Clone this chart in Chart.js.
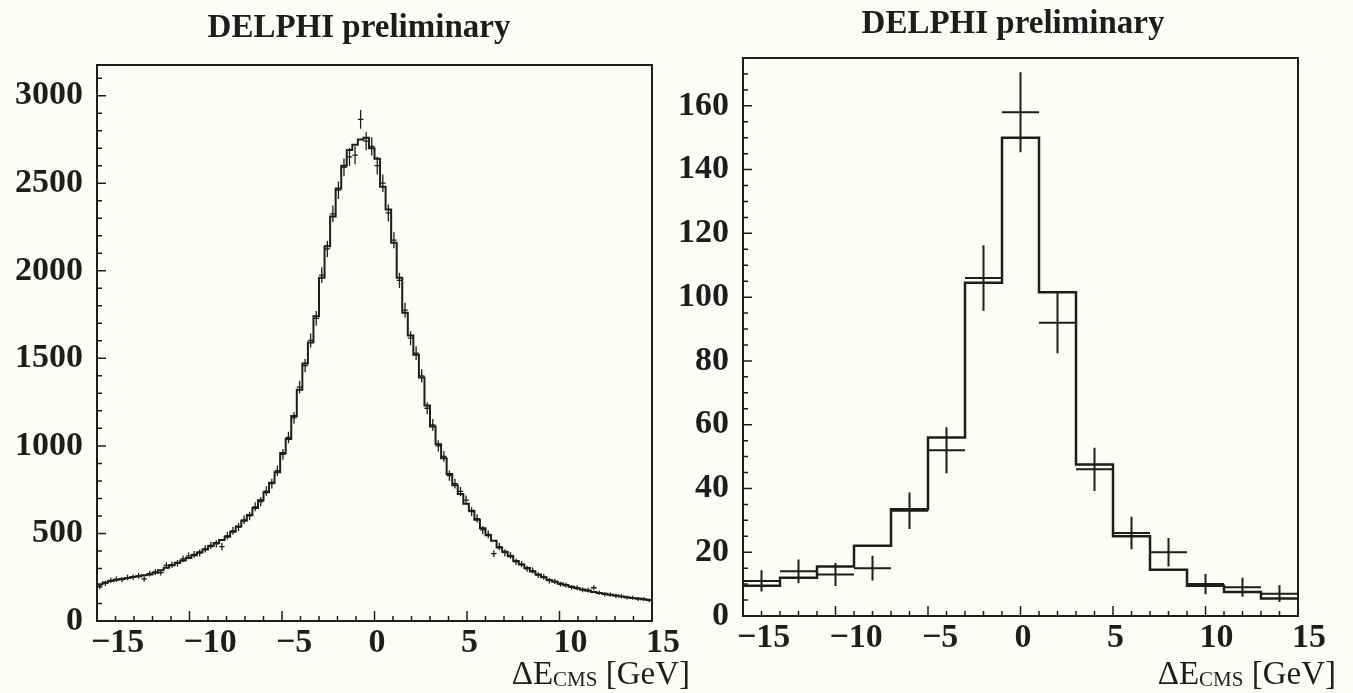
<!DOCTYPE html>
<html>
<head>
<meta charset="utf-8">
<script src="https://cdn.jsdelivr.net/npm/chart.js@4.4.1/dist/chart.umd.min.js"></script>
<style>
  html, body { margin: 0; padding: 0; background: #fdfdf8; overflow: hidden; }
  .panel { position: absolute; top: 0; }
</style>
</head>
<body>
<canvas id="left-chart" class="panel" width="720" height="693" style="left:0"></canvas>
<canvas id="right-chart" class="panel" width="677" height="693" style="left:676px"></canvas>
<script>
const ink = '#1d1d1d';
const serif = '"Liberation Serif", "Times New Roman", serif';

// x axis: Delta E_CMS in GeV
const xTickValues = [-15, -10, -5, 0, 5, 10, 15];
const leftYTicks = [0, 500, 1000, 1500, 2000, 2500, 3000];
const rightYTicks = [0, 20, 40, 60, 80, 100, 120, 140, 160];

// left panel: 100 bins of 0.3 GeV from -15 to 15
const fineStart = -15, fineWidth = 0.3;
const fineMC = [
  210, 220, 228, 235, 240, 246, 251, 256, 261, 266,
  276, 290, 304, 318, 332, 346, 360, 376, 392, 409,
  427, 445, 463, 481, 510, 540, 572, 605, 645, 690,
  735, 790, 850, 960, 1040, 1170, 1320, 1470, 1590, 1740,
  1960, 2140, 2310, 2470, 2600, 2690, 2720, 2750, 2760, 2700,
  2640, 2480, 2350, 2160, 1960, 1760, 1630, 1520, 1390, 1230,
  1110, 1010, 930, 840, 775, 725, 670, 630, 578, 530,
  490, 458, 420, 395, 370, 342, 322, 302, 282, 266,
  250, 234, 224, 214, 204, 195, 187, 180, 173, 166,
  160, 155, 150, 145, 140, 136, 132, 128, 124, 120
];
const fineData = [
  195, 215, 232, 238, 236, 248, 250, 258, 240, 270,
  280, 276, 318, 322, 330, 355, 372, 380, 388, 412,
  432, 440, 425, 488, 515, 536, 578, 600, 652, 682,
  742, 785, 858, 952, 1048, 1160, 1335, 1458, 1602, 1728,
  1975, 2125, 2325, 2460, 2590, 2650, 2660, 2865, 2740, 2710,
  2600, 2500, 2330, 2175, 1945, 1775, 1615, 1530, 1400, 1215,
  1120, 1000, 940, 830, 785, 740, 690, 625, 585, 520,
  495, 385, 425, 390, 375, 338, 325, 298, 288, 262,
  252, 230, 226, 210, 206, 192, 190, 178, 176, 190,
  162, 152, 151, 143, 141, 134, 133, 126, 125, 118
];

// right panel: 15 bins of 2 GeV from -15 to 15
const coarseStart = -15, coarseWidth = 2;
const coarseMC = [9.5, 12, 15.5, 22, 33.5, 56, 104.5, 150, 101.5, 47.5, 25, 14.5, 9.5, 7.5, 5.5];
const coarseData = [11, 14, 13, 15, 33, 52, 106, 158, 92, 46, 26, 20, 10, 9, 7];

function binEdges(start, width, n) {
  return Array.from({ length: n + 1 }, (_, i) => +(start + i * width).toFixed(4));
}

function stepPoints(edges, values) {
  const pts = values.map((v, i) => ({ x: edges[i], y: v }));
  pts.push({ x: edges[edges.length - 1], y: values[values.length - 1] });
  return pts;
}

const fmtTick = v => (v < 0 ? '\u2212' + (-v) : String(v));

// frame, inward ticks, data crosses and the texts
const panelDecor = {
  id: 'panelDecor',
  afterDatasetsDraw(chart, args, o) {
    const { ctx, chartArea: a } = chart;
    const xs = chart.scales.x, ys = chart.scales.y;
    ctx.save();
    ctx.strokeStyle = ink;
    ctx.fillStyle = ink;

    // data: bar over the bin width, vertical bar +- sqrt(N)
    ctx.lineWidth = o.crossWidth;
    ctx.beginPath();
    o.counts.forEach((n, i) => {
      const x0 = xs.getPixelForValue(o.edges[i]);
      const x1 = xs.getPixelForValue(o.edges[i + 1]);
      const xc = (x0 + x1) / 2;
      const yc = ys.getPixelForValue(n);
      const err = Math.sqrt(n);
      ctx.moveTo(x0, yc); ctx.lineTo(x1, yc);
      ctx.moveTo(xc, ys.getPixelForValue(n + err));
      ctx.lineTo(xc, ys.getPixelForValue(n - err));
    });
    ctx.stroke();

    ctx.lineWidth = 2;
    ctx.strokeRect(a.left, a.top, a.right - a.left, a.bottom - a.top);

    ctx.lineWidth = 1.5;
    ctx.beginPath();
    for (let v = xs.min; v <= xs.max; v += 1) {
      const px = xs.getPixelForValue(v);
      const len = v % 5 === 0 ? 10 : 5;
      ctx.moveTo(px, a.bottom); ctx.lineTo(px, a.bottom - len);
    }
    for (let v = 0; v <= ys.max; v += o.yMinor) {
      const py = ys.getPixelForValue(v);
      const len = v % o.yMajor === 0 ? 9 : 5;
      ctx.moveTo(a.left, py); ctx.lineTo(a.left + len, py);
    }
    ctx.stroke();

    // title
    ctx.font = `bold 33px ${serif}`;
    ctx.textAlign = 'center';
    ctx.textBaseline = 'alphabetic';
    ctx.fillText('DELPHI preliminary', o.titleX, o.titleY);

    // axis title with subscript
    const big = `33px ${serif}`, small = `21px ${serif}`;
    ctx.textAlign = 'left';
    ctx.font = big;
    const w1 = ctx.measureText('\u0394E').width;
    const w3 = ctx.measureText(' [GeV]').width;
    ctx.font = small;
    const w2 = ctx.measureText('CMS').width;
    const x0 = a.right + 38 - (w1 + w2 + w3);
    ctx.font = big; ctx.fillText('\u0394E', x0, 684);
    ctx.font = small; ctx.fillText('CMS', x0 + w1, 686);
    ctx.font = big; ctx.fillText(' [GeV]', x0 + w1 + w2, 684);
    ctx.restore();
  }
};

function makeChart(canvasId, cfg) {
  const tickFont = { family: serif, weight: 'bold', size: 34 };
  return new Chart(document.getElementById(canvasId), {
    type: 'line',
    data: {
      datasets: [{
        data: stepPoints(cfg.edges, cfg.mc),
        stepped: true,
        borderColor: ink,
        borderWidth: cfg.lineWidth,
        pointRadius: 0,
        fill: false,
      }],
    },
    options: {
      responsive: false, animation: false, devicePixelRatio: 1,
      layout: { padding: { left: 0, top: cfg.top, right: cfg.padRight, bottom: 0 } },
      plugins: {
        legend: { display: false },
        tooltip: { enabled: false },
        panelDecor: {
          edges: cfg.edges, counts: cfg.counts, crossWidth: cfg.crossWidth,
          yMinor: cfg.yMinor, yMajor: cfg.yMajor, titleX: cfg.titleX, titleY: cfg.titleY,
        },
      },
      scales: {
        x: {
          type: 'linear', min: -15, max: 15,
          grid: { display: false, drawTicks: false },
          border: { display: false },
          afterBuildTicks: s => { s.ticks = xTickValues.map(v => ({ value: v })); },
          afterFit: s => { s.height = cfg.xHeight; s.paddingLeft = 0; s.paddingRight = 0; },
          ticks: {
            align: 'start', labelOffset: -6, padding: 2, maxRotation: 0, autoSkip: false,
            color: ink, font: tickFont, callback: fmtTick,
          },
        },
        y: {
          type: 'linear', min: 0, max: cfg.yMax,
          grid: { display: false, drawTicks: false },
          border: { display: false },
          afterBuildTicks: s => { s.ticks = cfg.yTicks.map(v => ({ value: v })); },
          afterFit: s => { s.width = cfg.yWidth; s.paddingTop = 0; s.paddingBottom = 0; },
          ticks: { padding: 14, color: ink, font: tickFont, autoSkip: false, callback: v => String(v) },
        },
      },
    },
    plugins: [panelDecor],
  });
}

const fineEdges = binEdges(fineStart, fineWidth, fineMC.length);
const coarseEdges = binEdges(coarseStart, coarseWidth, coarseMC.length);

makeChart('left-chart', {
  edges: fineEdges, mc: fineMC, counts: fineData,
  lineWidth: 2, crossWidth: 1.3,
  top: 65, padRight: 720 - 652, xHeight: 693 - 621, yWidth: 97,
  yMax: 3175, yTicks: leftYTicks, yMinor: 100, yMajor: 500,
  titleX: 359, titleY: 37,
});

makeChart('right-chart', {
  edges: coarseEdges, mc: coarseMC, counts: coarseData,
  lineWidth: 2.5, crossWidth: 2,
  top: 58, padRight: 677 - 622, xHeight: 693 - 616, yWidth: 67,
  yMax: 175, yTicks: rightYTicks, yMinor: 5, yMajor: 20,
  titleX: 337, titleY: 33,
});
</script>
</body>
</html>
